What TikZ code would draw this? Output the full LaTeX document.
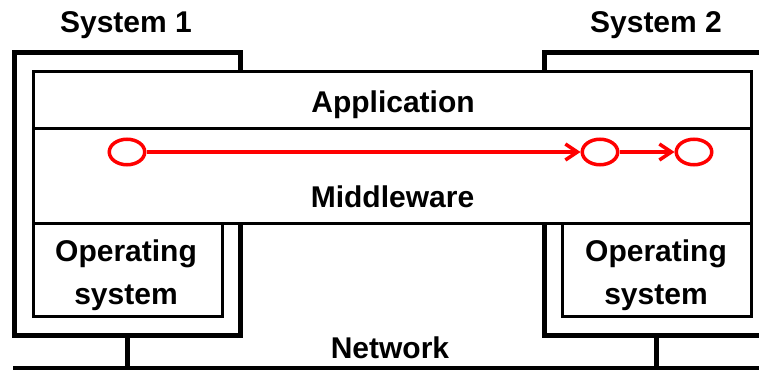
\documentclass[tikz,border=0pt]{standalone}
\usepackage{fontspec}
\setmainfont{Liberation Sans}
\usetikzlibrary{arrows.meta,shapes.geometric}
\begin{document}
\begin{tikzpicture}[x=1pt,y=-1pt,
  lbl/.style={font=\fontsize{30}{42}\selectfont\bfseries,inner sep=0pt,anchor=base},
  oslbl/.style={font=\fontsize{30}{43}\selectfont\bfseries,inner sep=0pt,align=center,anchor=north},
  frame/.style={line width=5pt,line join=miter},
  box/.style={line width=3pt},
  hop/.style={draw=red,line width=3.5pt,ellipse,minimum width=35.5pt,minimum height=25.5pt,inner sep=0pt},
  msg/.style={red,line width=3.5pt,-{Straight Barb[length=12pt,width=16pt]}}]
\useasboundingbox (0,0) rectangle (759,374);
\begin{scope}
\clip (0,0) rectangle (759,374);
% system frames
\draw[frame] (240,72) -- (240,53) -- (14.5,53) -- (14.5,335) -- (240,335) -- (240,223);
\draw[frame] (544,72) -- (544,53) -- (775,53);
\draw[frame] (775,335) -- (544,335) -- (544,223);
% application / middleware
\draw[box,fill=white] (33,72) rectangle (751,223);
\draw[box] (33,129) -- (751,129);
% operating systems
\draw[box] (33,223) rectangle (222,316);
\draw[box] (562,223) rectangle (751,316);
% network
\draw[line width=3.5pt] (13,368) -- (775,368);
\draw[line width=5pt] (127,335) -- (127,368);
\draw[line width=5pt] (656,335) -- (656,368);
\end{scope}
% labels
\node[lbl] (s1) at (126,33) {System 1};
\node[lbl] (s2) at (656,33) {System 2};
\node[lbl] (app) at (393,113) {Application};
\node[lbl] (mw) at (392.5,207) {Middleware};
\node[lbl] (net) at (390,358) {Network};
\node[oslbl] (os1) at (126,240) {Operating\\system};
\node[oslbl] (os2) at (656,240) {Operating\\system};
% message path
\node[hop] (h1) at (127,152) {};
\node[hop] (h2) at (600,152) {};
\node[hop] (h3) at (694,152) {};
\draw[msg] (h1) -- (h2);
\draw[msg] (h2) -- (h3);
\end{tikzpicture}
\end{document}
